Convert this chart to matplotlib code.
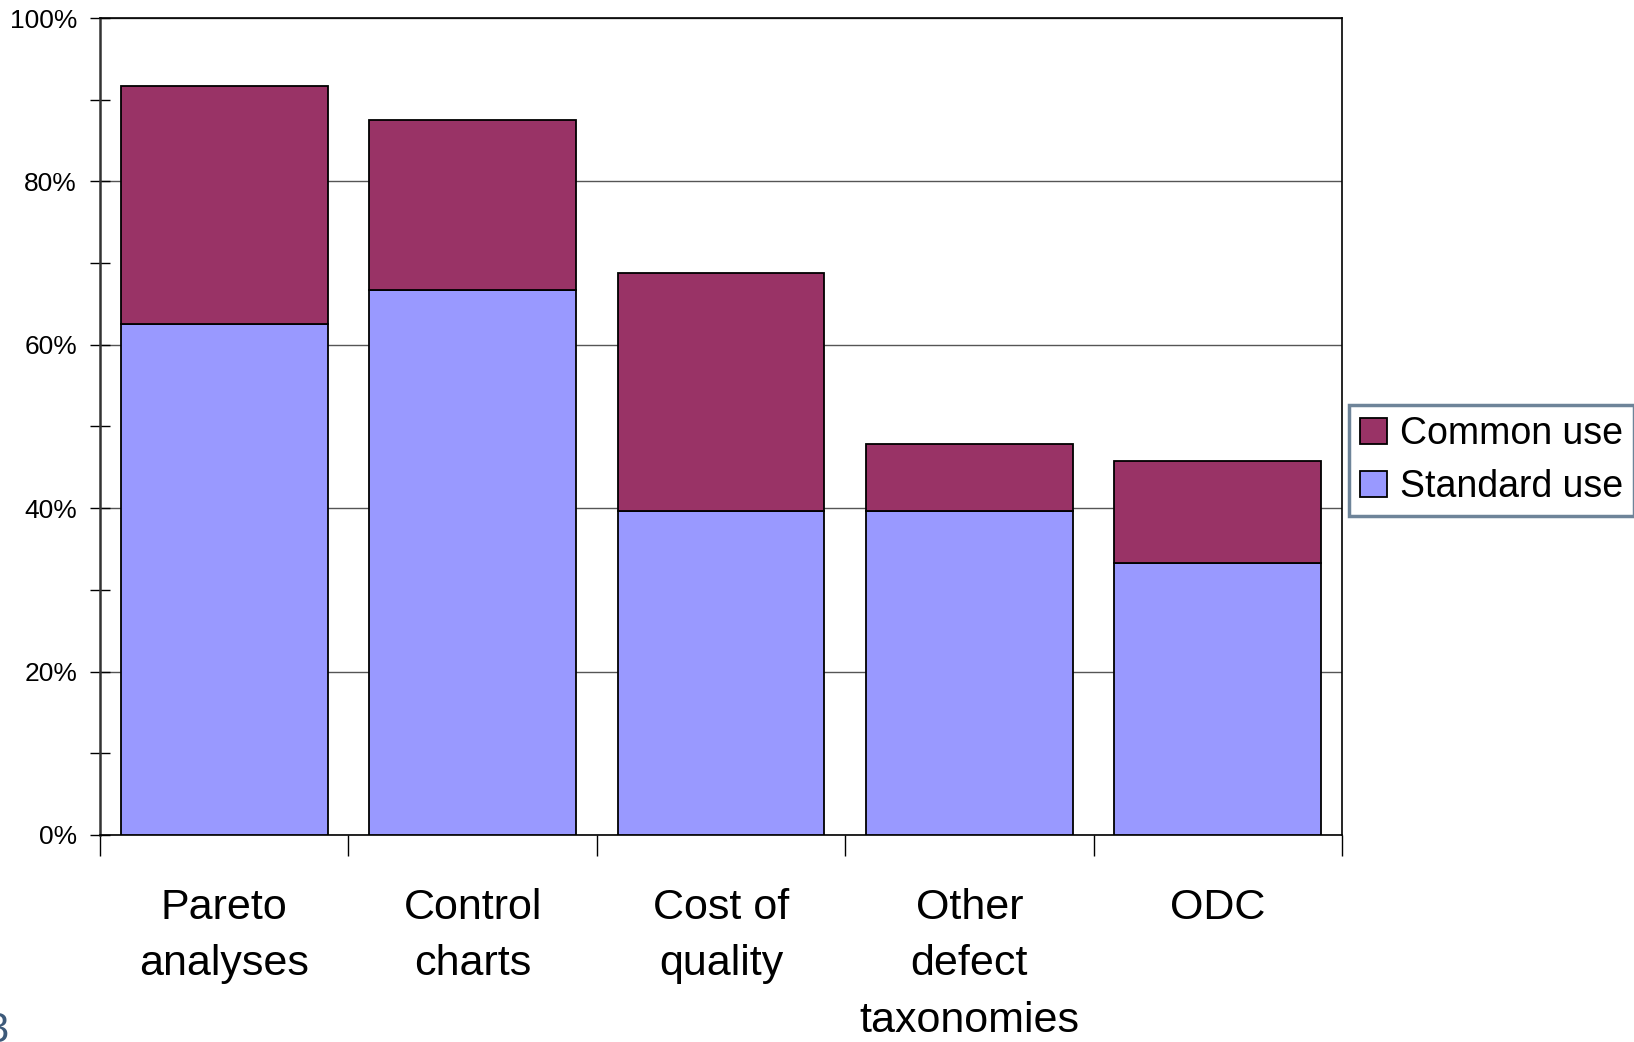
import matplotlib
matplotlib.use("Agg")
import matplotlib.pyplot as plt
import numpy as np
from matplotlib.ticker import MultipleLocator, FuncFormatter

plt.rcParams['font.family'] = ['Liberation Sans', 'DejaVu Sans']

categories = ["Pareto\nanalyses", "Control\ncharts", "Cost of\nquality",
              "Other\ndefect\ntaxonomies", "ODC"]
standard_use = [62.5, 66.7, 39.6, 39.6, 33.3]
common_use = [29.2, 20.8, 29.2, 8.3, 12.5]
series_names = ["Common use", "Standard use"]

color_common = "#993366"
color_standard = "#9999FF"

fig = plt.figure(figsize=(16.34, 10.42), dpi=100)
ax = fig.add_axes([0.0612, 0.1987, 0.7601, 0.7840])

x = np.arange(len(categories))
bar_w = 0.833
b_std = ax.bar(x, standard_use, width=bar_w, color=color_standard,
               edgecolor="black", linewidth=1.3, zorder=3)
b_com = ax.bar(x, common_use, bottom=standard_use, width=bar_w,
               color=color_common, edgecolor="black", linewidth=1.3, zorder=3)

ax.set_xlim(-0.5, len(categories) - 0.5)
ax.set_ylim(0, 100)

# horizontal gridlines at major ticks
ax.yaxis.set_major_locator(MultipleLocator(20))
ax.yaxis.set_minor_locator(MultipleLocator(10))
ax.yaxis.set_major_formatter(FuncFormatter(lambda v, p: f"{int(round(v))}%"))
ax.grid(axis="y", which="major", color="#555555", linewidth=1.0, zorder=0)
ax.tick_params(axis="y", which="major", direction="inout", length=15, width=1.0,
               labelsize=19, pad=9)
ax.tick_params(axis="y", which="minor", direction="inout", length=15, width=1.0)

# category separators on the x axis
ax.set_xticks(np.arange(-0.5, len(categories), 1.0))
ax.set_xticklabels([])
ax.tick_params(axis="x", which="major", direction="out", length=15, width=1.0)
for xi, lab in zip(x, categories):
    ax.text(xi, -6.5, lab, ha="center", va="top", fontsize=31,
            linespacing=1.53, transform=ax.transData, clip_on=False)

for s in ax.spines.values():
    s.set_color("black")
    s.set_linewidth(1.2)
ax.spines["left"].set_color("#333333")
ax.spines["left"].set_linewidth(1.8)

leg = fig.legend([b_com, b_std], series_names, loc="upper left",
                 bbox_to_anchor=(1349 / 1634, 1 - 405 / 1042),
                 fontsize=27, frameon=True, fancybox=False,
                 handlelength=0.7, handleheight=0.7, handletextpad=0.35,
                 borderpad=0.3, labelspacing=0.45, borderaxespad=0)
leg.get_frame().set_edgecolor("#4a6580")
leg.get_frame().set_linewidth(2.5)

# page number fragment at the lower left edge
fig.text(-0.009, -0.009, "3", fontsize=30, color="#3d5a7a", ha="left", va="bottom")

fig.savefig("out.png", dpi=100)
